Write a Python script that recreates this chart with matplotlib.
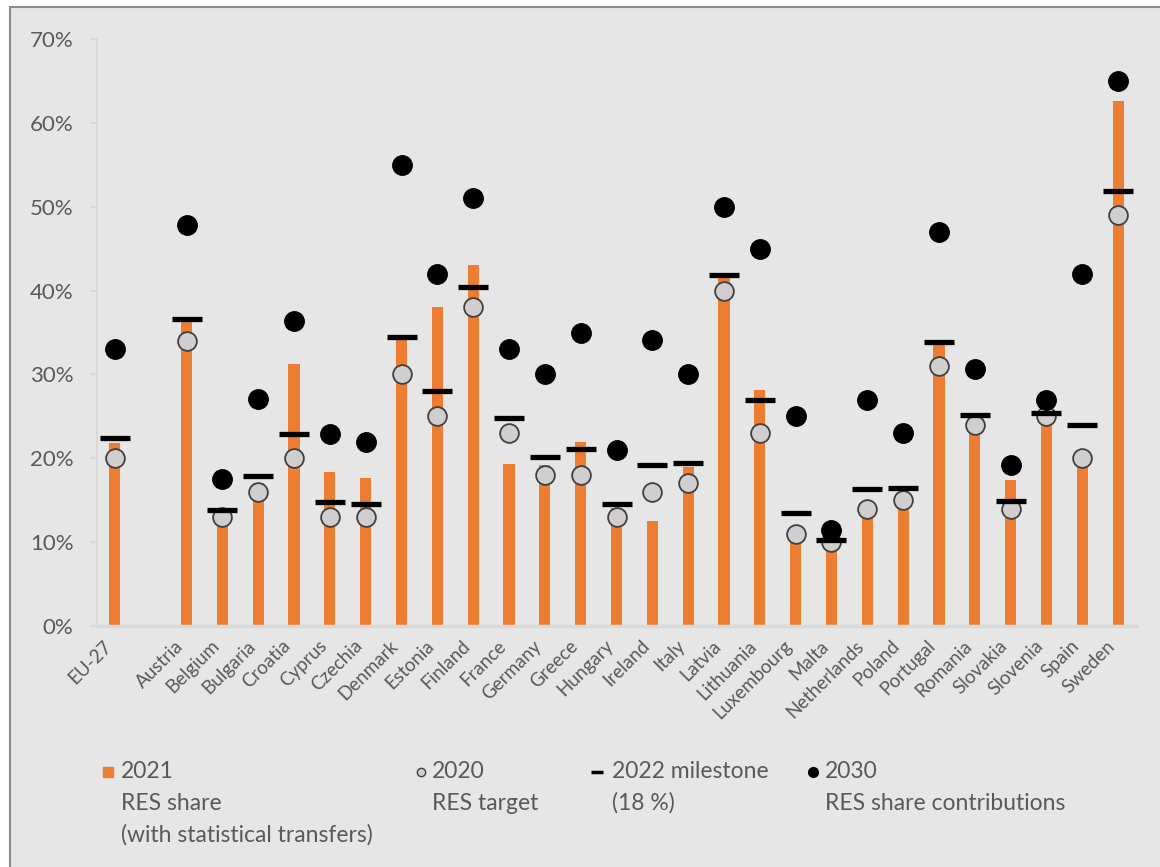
import numpy as np
import matplotlib.pyplot as plt
from matplotlib.lines import Line2D
from matplotlib.patches import Rectangle

plt.rcParams['font.family'] = ['Lato', 'DejaVu Sans']

countries = ['EU-27', '', 'Austria', 'Belgium', 'Bulgaria', 'Croatia', 'Cyprus', 'Czechia',
             'Denmark', 'Estonia', 'Finland', 'France', 'Germany', 'Greece', 'Hungary',
             'Ireland', 'Italy', 'Latvia', 'Lithuania', 'Luxembourg', 'Malta', 'Netherlands',
             'Poland', 'Portugal', 'Romania', 'Slovakia', 'Slovenia', 'Spain', 'Sweden']
nan = np.nan
# RES share 2021 (with statistical transfers), %
share_2021 = [21.8, nan, 36.4, 13.0, 17.0, 31.3, 18.4, 17.7, 34.7, 38.0, 43.1, 19.3, 19.2, 21.9,
              14.1, 12.5, 19.0, 42.1, 28.2, 11.7, 12.2, 13.0, 15.6, 34.0, 23.6, 17.4, 25.0, 20.7, 62.6]
# 2020 RES targets, %
target_2020 = [20, nan, 34, 13, 16, 20, 13, 13, 30, 25, 38, 23, 18, 18, 13, 16, 17, 40, 23, 11,
               10, 14, 15, 31, 24, 14, 25, 20, 49]
# 2022 milestone (18 %), %
milestone_2022 = [22.4, nan, 36.6, 13.8, 17.9, 22.9, 14.8, 14.6, 34.5, 28.0, 40.4, 24.8, 20.2, 21.1,
                  14.5, 19.2, 19.4, 41.9, 27.0, 13.5, 10.3, 16.3, 16.5, 33.9, 25.2, 14.9, 25.4, 24.0, 51.9]
# 2030 RES share contributions, %
contrib_2030 = [33.0, nan, 47.8, 17.5, 27.1, 36.4, 22.9, 22.0, 55.0, 42.0, 51.0, 33.0, 30.0, 35.0,
                21.0, 34.1, 30.0, 50.0, 45.0, 25.0, 11.5, 27.0, 23.0, 47.0, 30.7, 19.2, 27.0, 42.0, 65.0]

ORANGE = '#ed7d31'
TXT = '#595959'
AXC = '#d9d9d9'
W, H = 1160, 867

fig = plt.figure(figsize=(W / 100, H / 100), dpi=100)
fig.patch.set_facecolor('white')
fig.add_artist(Rectangle((10 / W, -0.01), 1.0, 1 - 7 / H + 0.01, transform=fig.transFigure,
                         facecolor='#e6e6e6', edgecolor='#8c8c8c', lw=1.5, zorder=0))

ax = fig.add_axes([97 / W, 1 - 626 / H, (1136 - 97) / W, (626 - 39) / H])
ax.set_facecolor('none')

x = np.arange(len(countries))
ax.bar(x, share_2021, width=0.31, color=ORANGE, zorder=2)
ax.plot(x, target_2020, ls='none', marker='o', ms=13.5, mfc='#d0cece', mec='#404040', mew=1.3, zorder=3)
ax.plot(x, contrib_2030, ls='none', marker='o', ms=14, mfc='black', mec='black', mew=1, zorder=4)
ax.plot(x, milestone_2022, ls='none', marker='_', ms=21, mew=3.8, color='black', zorder=5)

ax.set_xlim(-0.5, len(countries) - 0.5)
ax.set_ylim(0, 70)
ax.set_yticks(range(0, 71, 10))
ax.set_yticklabels([f'{v}%' for v in range(0, 71, 10)])
ax.set_xticks(x)
ax.set_xticklabels(countries, rotation=45, ha='right')

for s in ['top', 'right']:
    ax.spines[s].set_visible(False)
ax.spines['left'].set_color(AXC)
ax.spines['left'].set_linewidth(1.5)
ax.spines['bottom'].set_color(AXC)
ax.spines['bottom'].set_linewidth(2.5)
ax.tick_params(axis='y', length=5, width=1.5, color=AXC, labelsize=16, labelcolor=TXT, pad=12)
ax.tick_params(axis='x', length=0, labelsize=13.5, labelcolor=TXT, pad=8)

# legend, drawn by hand below the plot
line_y = [772, 803, 835]
entries = [
    (108, 121, dict(marker='s', ms=7.5, mfc=ORANGE, mec=ORANGE),
     ['2021', 'RES share', '(with statistical transfers)']),
    (421, 432, dict(marker='o', ms=6, mfc='#d0cece', mec='#404040', mew=1),
     ['2020', 'RES target']),
    (597, 612, dict(marker='_', ms=9, mew=2.5, color='black'),
     ['2022 milestone', '(18 %)']),
    (813, 825, dict(marker='o', ms=7, mfc='black', mec='black'),
     ['2030', 'RES share contributions']),
]
for mx, tx, style, lines in entries:
    fig.add_artist(Line2D([mx / W], [1 - line_y[0] / H], ls='none',
                          transform=fig.transFigure, **style))
    for ly, txt in zip(line_y, lines):
        fig.text(tx / W, 1 - ly / H, txt, fontsize=16.5, color=TXT, va='center', ha='left')

fig.savefig('out.png', dpi=100)
